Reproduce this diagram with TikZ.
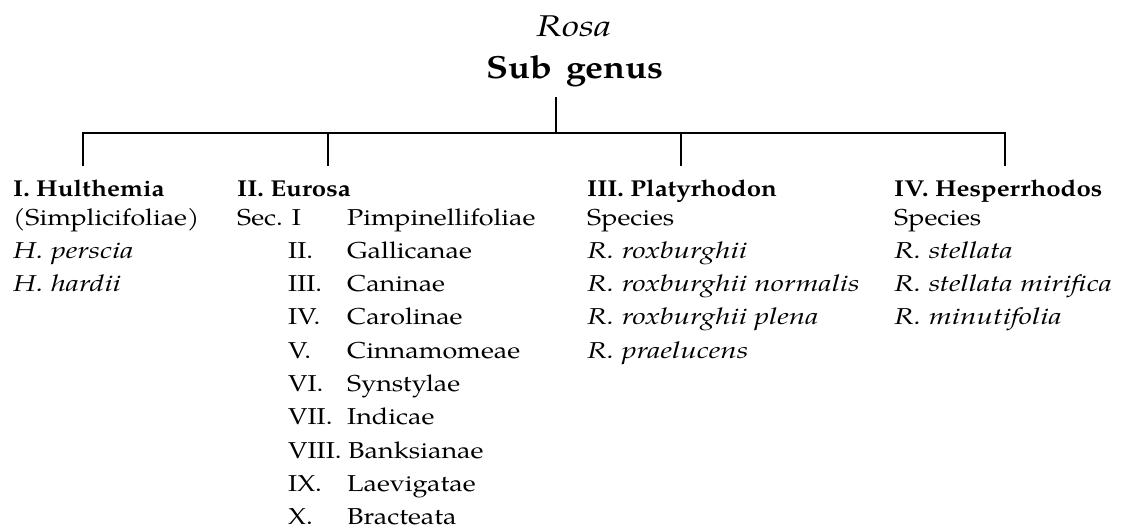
\documentclass[tikz,border=0pt]{standalone}
\usepackage{fontspec}
\setmainfont{texgyrepagella}[Extension=.otf, UprightFont=*-regular, BoldFont=*-bold, ItalicFont=*-italic, BoldItalicFont=*-bolditalic,
  UprightFeatures={FakeStretch=1.17}, BoldFeatures={FakeStretch=1.125}, ItalicFeatures={FakeStretch=1.288}]
\begin{document}
\begin{tikzpicture}[x=1pt,y=-1pt,
  txt/.style={anchor=base west, inner sep=0pt, font=\fontsize{23}{27}\selectfont},
  ttl/.style={anchor=base, inner sep=0pt, font=\fontsize{30}{34}\selectfont},
  tree/.style={line width=1.9pt, line cap=rect}]
\useasboundingbox (0,0) rectangle (1126,532);
\def\rowsp{33.3}
\def\rone{225}
% titles
\node[ttl] (rosa) at (574,37) {\itshape Rosa};
\node[ttl, font=\fontsize{32}{36}\selectfont] (sg) at (575,79) {\bfseries Sub\hspace{0.45em}genus};
% tree coordinates
\coordinate (sgb) at (556,98);
\coordinate (bar) at (556,133);
\coordinate (b1) at (83,133);
\coordinate (b2) at (328,133);
\coordinate (b3) at (681,133);
\coordinate (b4) at (1005,133);
\coordinate (d1) at (83,165);
\coordinate (d2) at (328,165);
\coordinate (d3) at (681,165);
\coordinate (d4) at (1005,165);
\draw[tree] (sgb) -- (bar);
\draw[tree] (d1) -- (b1) -- (b4) -- (d4);
\draw[tree] (b2) -- (d2);
\draw[tree] (b3) -- (d3);
% column 1
\node[txt] (h1) at (13,196) {\bfseries I. Hulthemia};
\node[txt] (c1a) at (13,\rone) {(Simplicifoliae)};
\node[txt] (c1b) at (13,\rone+\rowsp) {\itshape H. perscia};
\node[txt] (c1c) at (13,\rone+2*\rowsp) {\itshape H. hardii};
% column 2
\node[txt] (h2) at (237,196) {\bfseries II. Eurosa};
\node[txt] (sec) at (237,\rone) {Sec. I};
\node[txt] (n1) at (347,\rone) {Pimpinellifoliae};
\node[txt] (r2) at (288,\rone+\rowsp) {II.};
\node[txt] (n2) at (347,\rone+\rowsp) {Gallicanae};
\node[txt] (r3) at (288,\rone+2*\rowsp) {III.};
\node[txt] (n3) at (347,\rone+2*\rowsp) {Caninae};
\node[txt] (r4) at (288,\rone+3*\rowsp) {IV.};
\node[txt] (n4) at (347,\rone+3*\rowsp) {Carolinae};
\node[txt] (r5) at (288,\rone+4*\rowsp) {V.};
\node[txt] (n5) at (347,\rone+4*\rowsp) {Cinnamomeae};
\node[txt] (r6) at (288,\rone+5*\rowsp) {VI.};
\node[txt] (n6) at (347,\rone+5*\rowsp) {Synstylae};
\node[txt] (r7) at (288,\rone+6*\rowsp) {VII.};
\node[txt] (n7) at (347,\rone+6*\rowsp) {Indicae};
\node[txt] (r8) at (288,\rone+7*\rowsp) {VIII.};
\node[txt] (n8) at (348,\rone+7*\rowsp) {Banksianae};
\node[txt] (r9) at (288,\rone+8*\rowsp) {IX.};
\node[txt] (n9) at (347,\rone+8*\rowsp) {Laevigatae};
\node[txt] (r10) at (288,\rone+9*\rowsp) {X.};
\node[txt] (n10) at (347,\rone+9*\rowsp) {Bracteata};
% column 3
\node[txt] (h3) at (587,196) {\bfseries III. Platyrhodon};
\node[txt] (c3a) at (587,\rone) {Species};
\node[txt] (c3b) at (587,\rone+\rowsp) {\itshape R. roxburghii};
\node[txt] (c3c) at (587,\rone+2*\rowsp) {\itshape R. roxburghii normalis};
\node[txt] (c3d) at (587,\rone+3*\rowsp) {\itshape R. roxburghii plena};
\node[txt] (c3e) at (587,\rone+4*\rowsp) {\itshape R. praelucens};
% column 4
\node[txt] (h4) at (894,196) {\bfseries IV. Hesperrhodos};
\node[txt] (c4a) at (894,\rone) {Species};
\node[txt] (c4b) at (894,\rone+\rowsp) {\itshape R. stellata};
\node[txt] (c4c) at (894,\rone+2*\rowsp) {\itshape R. stellata mirifica};
\node[txt] (c4d) at (894,\rone+3*\rowsp) {\itshape R. minutifolia};
\end{tikzpicture}
\end{document}
